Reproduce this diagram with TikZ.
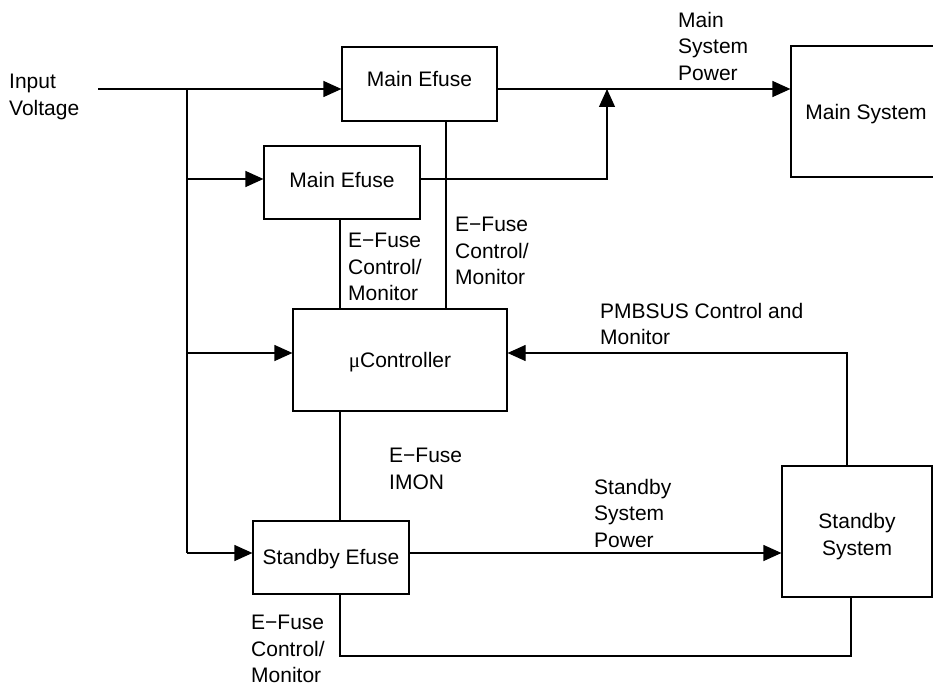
\documentclass[tikz,border=0pt]{standalone}
\usepackage{fontspec}
\setmainfont{Liberation Sans}
\newfontfamily\mufont{Liberation Serif}
\usetikzlibrary{arrows.meta}
\begin{document}
\begin{tikzpicture}[x=1pt,y=-1pt,
  every node/.style={font=\fontsize{21}{26.5}\selectfont},
  box/.style={draw, line width=1.2pt, inner sep=0pt, align=center, text height=15pt, text depth=4pt},
  lbl/.style={anchor=north west, inner sep=0pt, align=left},
  wire/.style={line width=1.2pt},
  arr/.style={wire, -{Triangle[length=18pt,width=16pt]}}]
\clip (0,0) rectangle (933,687);

% boxes
\node[box, minimum width=155pt, minimum height=74pt, text depth=9pt] (me1) at (419.5,84) {Main Efuse};
\node[box, minimum width=156pt, minimum height=73pt, text depth=6pt] (me2) at (342,182.5) {Main Efuse};
\node[box, minimum width=214pt, minimum height=102pt, text depth=1pt] (uc) at (400,360) {{\mufont μ}Controller};
\node[box, minimum width=156pt, minimum height=73pt, text depth=2pt] (se) at (331,557.5) {Standby Efuse};
\node[box, minimum width=150pt, minimum height=131pt, text height=17pt, text depth=0pt] (ms) at (866,111.5) {Main System};
\node[box, minimum width=150pt, minimum height=131pt, text height=47pt, text depth=0pt] (ss) at (857,531.5) {Standby\\System};

% labels
\node[lbl] (lin) at (9,74) {Input\\Voltage};
\node[lbl] (lmsp) at (678,12) {Main\\System\\Power};
\node[lbl] (lc1) at (348,233) {E−Fuse\\Control/\\Monitor};
\node[lbl] (lc2) at (455,217) {E−Fuse\\Control/\\Monitor};
\node[lbl] (lpm) at (600,303) {PMBSUS Control and\\Monitor};
\node[lbl] (lim) at (389,448) {E−Fuse\\IMON};
\node[lbl] (lssp) at (594,479) {Standby\\System\\Power};
\node[lbl] (lc3) at (251,615) {E−Fuse\\Control/\\Monitor};

% helper coordinates
\coordinate (in) at (98,89);
\coordinate (bus) at (187,0);
\coordinate (y2) at (0,179);
\coordinate (y3) at (0,353);
\coordinate (y4) at (0,553);
\coordinate (join) at (607,0);
\coordinate (xa) at (340,0);
\coordinate (xb) at (446,0);
\coordinate (xc) at (847,0);
\coordinate (xd) at (851,0);
\coordinate (yb) at (0,656);

% input and bus
\draw[arr] (in) -- (in -| me1.west);
\draw[wire] (in -| bus) -- (y4 -| bus);
\draw[arr] (y2 -| bus) -- (y2 -| me2.west);
\draw[arr] (y3 -| bus) -- (y3 -| uc.west);
\draw[arr] (y4 -| bus) -- (y4 -| se.west);

% main power
\draw[arr] (in -| me1.east) -- (in -| ms.west);
\draw[arr] (y2 -| me2.east) -- (y2 -| join) -- (in -| join);

% control lines
\draw[wire] (me1.south -| xb) -- (uc.north -| xb);
\draw[wire] (me2.south -| xa) -- (uc.north -| xa);
\draw[wire] (uc.south -| xa) -- (se.north -| xa);

% standby power
\draw[arr] (y4 -| se.east) -- (y4 -| ss.west);

% PMBus
\draw[arr] (ss.north -| xc) -- (y3 -| xc) -- (y3 -| uc.east);

% standby control
\draw[wire] (ss.south -| xd) -- (yb -| xd) -- (yb -| xa) -- (se.south -| xa);
\end{tikzpicture}
\end{document}
